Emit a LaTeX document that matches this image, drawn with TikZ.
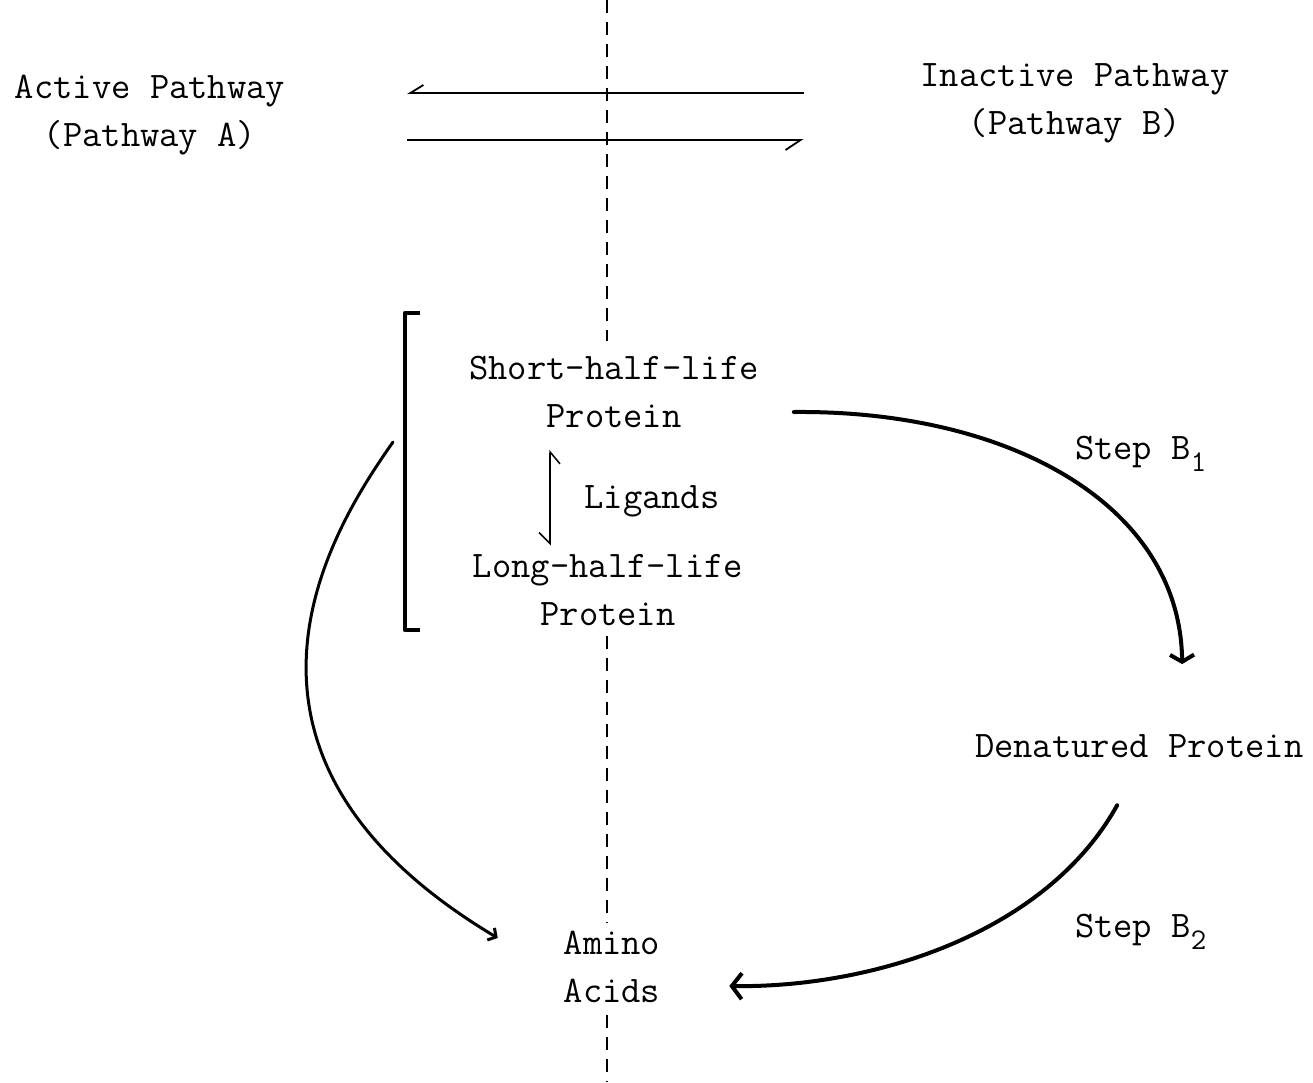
\documentclass[tikz,border=0pt]{standalone}
\usepackage{fontspec}
\setmonofont{Latin Modern Mono}
\usetikzlibrary{arrows.meta}
\tikzset{
  lbl/.style={font=\ttfamily\fontsize{37.5}{48}\selectfont, inner sep=0pt, outer sep=0pt, align=center},
  flux/.style={line width=1.8pt},
  curve/.style={line width=4pt, line cap=round},
  midline/.style={line width=2.5pt, dash pattern=on 13pt off 9pt},
}
\newcommand{\sub}[1]{\raisebox{-12pt}{\fontsize{30}{30}\selectfont #1}}

\begin{document}
\begin{tikzpicture}[x=1pt,y=-1pt]
    \useasboundingbox (0,0) rectangle (1313,1082);

    % pathways
    \node[lbl] (act) at (150,115) {Active Pathway\\(Pathway A)};
    \node[lbl] (inact) at (1075,103) {Inactive Pathway\\(Pathway B)};

    % proteins
    \node[lbl] (short) at (614,392) {Short-half-life\\Protein};
    \node[lbl] (long) at (608,590) {Long-half-life\\Protein};
    \node[lbl, anchor=base] (lig) at (652,508) {Ligands};
    \node[lbl, anchor=base west] (den) at (975,757) {Denatured Protein};
    \node[lbl] (amino) at (612,967) {Amino\\Acids};

    % steps
    \node[lbl, anchor=base west] (stepa) at (1075,459) {Step B\sub{1}};
    \node[lbl, anchor=base west] (stepb) at (1075,937) {Step B\sub{2}};

    \coordinate (top) at (607,0);
    \coordinate (bot) at (607,1082);
    \coordinate (brk) at (393,442);

    % divider
    \draw[midline, shorten >=15pt] (top) -- (top |- short.north);
    \draw[midline, shorten <=10pt, shorten >=8pt] (top |- long.south) -- (top |- amino.north);
    \draw[midline, shorten <=12pt] (top |- amino.south) -- (bot);

    % bracket
    \draw[line width=4.5pt, line join=round] (420,313) -- (405,313) -- (405,630) -- (420,630);

    % equilibrium
    \draw[flux, {Straight Barb[harpoon,swap,length=13pt,width=16pt]}-] ([xshift=122pt,yshift=22pt]act.east) -- ([xshift=-117pt,yshift=10pt]inact.west);
    \draw[flux, -{Straight Barb[harpoon,swap,length=15pt,width=20pt]}] ([xshift=122pt,yshift=-25pt]act.east) -- ([xshift=-117pt,yshift=-37pt]inact.west);
    \draw[flux, line width=1.5pt, {Straight Barb[harpoon,swap,length=11pt,width=22pt]}-{Straight Barb[harpoon,swap,length=12pt,width=20pt]}, shorten <=9pt, shorten >=22pt] (550,0 |- long.north) -- (550,0 |- short.south);

    % step arrows
    \draw[curve, -{Straight Barb[length=7pt,width=24pt]}] ([xshift=35pt,yshift=-20pt]short.east) .. controls (1010,410) and (1180,505) .. ([xshift=43pt,yshift=70pt]den.north);
    \draw[curve, -{Straight Barb[length=10pt,width=26pt]}] ([xshift=-22pt,yshift=-48pt]den.south) .. controls (1045,935) and (870,988) .. ([xshift=69pt,yshift=-19pt]amino.east);
    \draw[curve, line width=3pt, -{Straight Barb[length=6pt,width=14pt]}] (brk) .. controls (337,522) and (185,751) .. ([xshift=-66pt,yshift=29pt]amino.west);

\end{tikzpicture}
\end{document}
